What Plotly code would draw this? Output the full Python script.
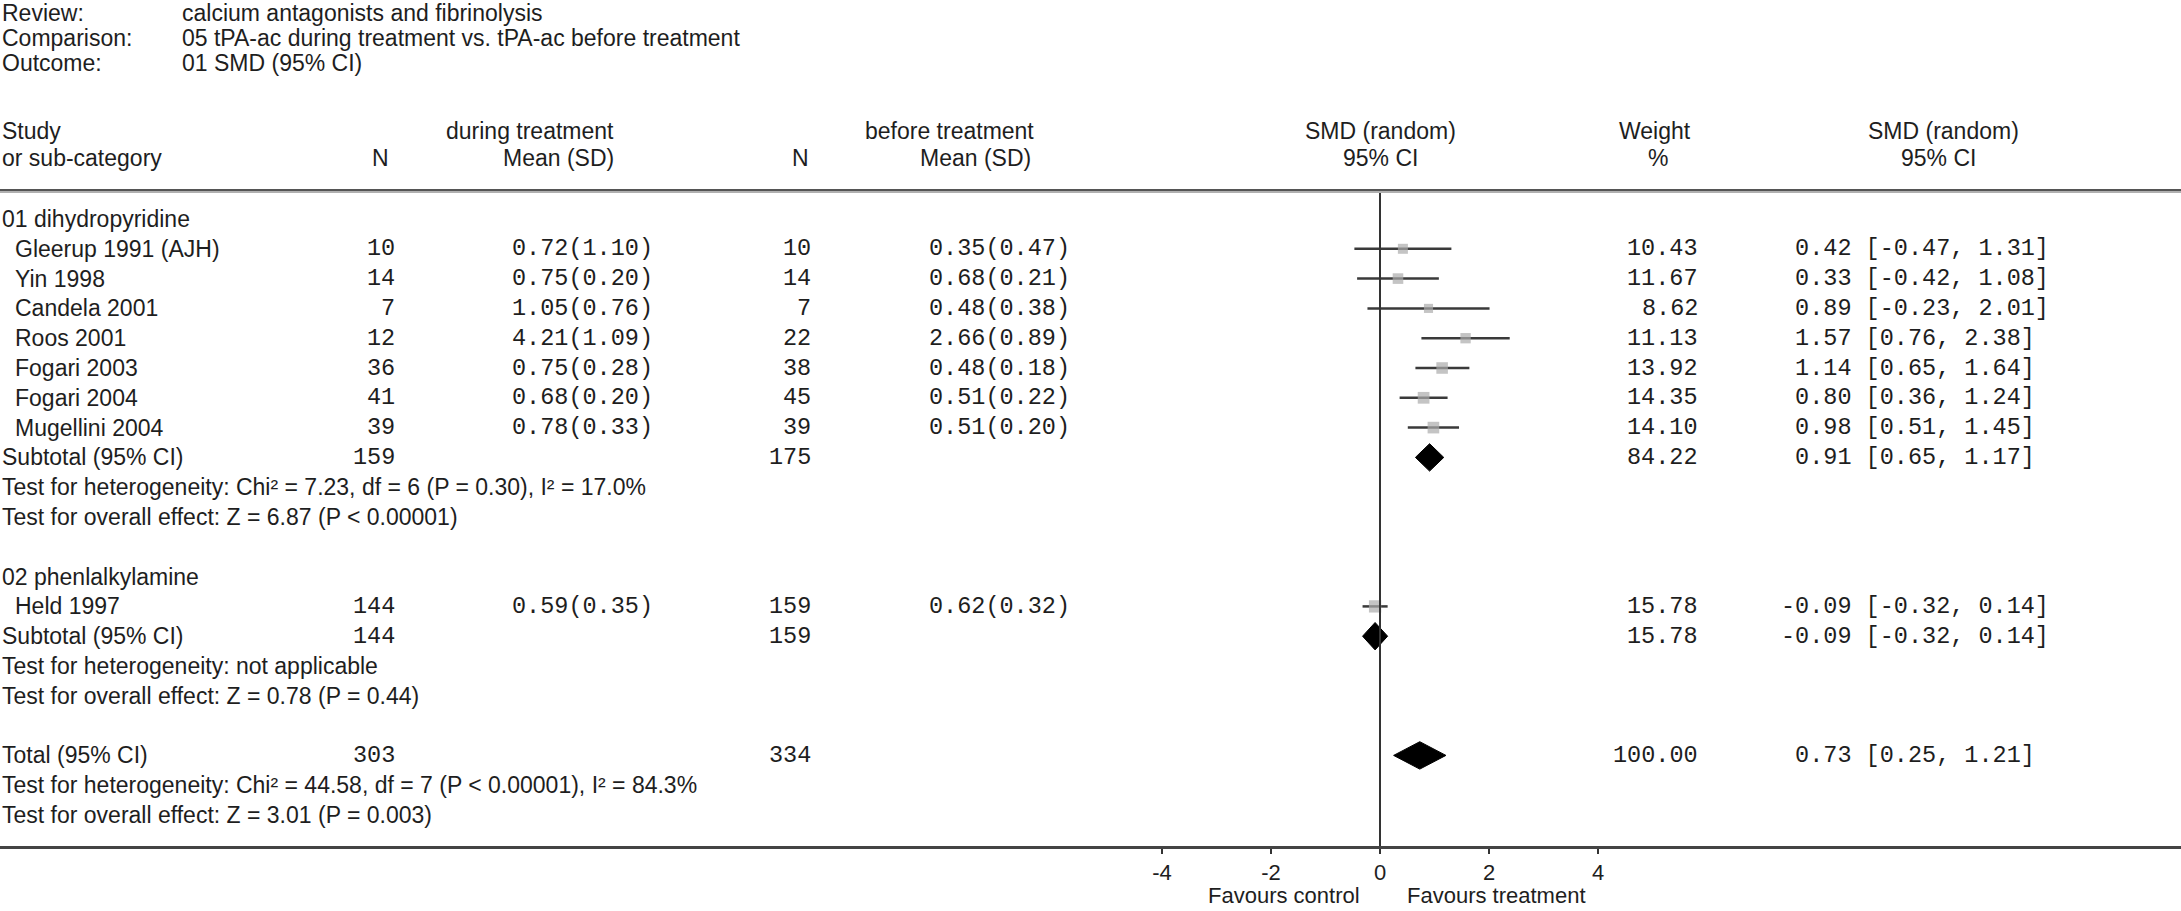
import plotly.graph_objects as go

# ---- data ----
group1_name = "01 dihydropyridine"
group1_studies = ["Gleerup 1991 (AJH)", "Yin 1998", "Candela 2001", "Roos 2001",
                  "Fogari 2003", "Fogari 2004", "Mugellini 2004"]
group1_n_during = [10, 14, 7, 12, 36, 41, 39]
group1_mean_during = [0.72, 0.75, 1.05, 4.21, 0.75, 0.68, 0.78]
group1_sd_during = [1.10, 0.20, 0.76, 1.09, 0.28, 0.20, 0.33]
group1_n_before = [10, 14, 7, 22, 38, 45, 39]
group1_mean_before = [0.35, 0.68, 0.48, 2.66, 0.48, 0.51, 0.51]
group1_sd_before = [0.47, 0.21, 0.38, 0.89, 0.18, 0.22, 0.20]
group1_weight = [10.43, 11.67, 8.62, 11.13, 13.92, 14.35, 14.10]
group1_smd = [0.42, 0.33, 0.89, 1.57, 1.14, 0.80, 0.98]
group1_lo = [-0.47, -0.42, -0.23, 0.76, 0.65, 0.36, 0.51]
group1_hi = [1.31, 1.08, 2.01, 2.38, 1.64, 1.24, 1.45]
group1_subtotal = dict(n1=159, n2=175, weight=84.22, smd=0.91, lo=0.65, hi=1.17)
group1_tests = ["Test for heterogeneity: Chi² = 7.23, df = 6 (P = 0.30), I² = 17.0%",
                "Test for overall effect: Z = 6.87 (P < 0.00001)"]

group2_name = "02 phenlalkylamine"
group2_studies = ["Held 1997"]
group2_n_during = [144]
group2_mean_during = [0.59]
group2_sd_during = [0.35]
group2_n_before = [159]
group2_mean_before = [0.62]
group2_sd_before = [0.32]
group2_weight = [15.78]
group2_smd = [-0.09]
group2_lo = [-0.32]
group2_hi = [0.14]
group2_subtotal = dict(n1=144, n2=159, weight=15.78, smd=-0.09, lo=-0.32, hi=0.14)
group2_tests = ["Test for heterogeneity: not applicable",
                "Test for overall effect: Z = 0.78 (P = 0.44)"]

total = dict(n1=303, n2=334, weight=100.00, smd=0.73, lo=0.25, hi=1.21)
total_tests = ["Test for heterogeneity: Chi² = 44.58, df = 7 (P < 0.00001), I² = 84.3%",
               "Test for overall effect: Z = 3.01 (P = 0.003)"]

header_info = [("Review:", "calcium antagonists and fibrinolysis"),
               ("Comparison:", "05 tPA-ac during treatment vs. tPA-ac before treatment"),
               ("Outcome:", "01 SMD (95% CI)")]
x_ticks = [-4, -2, 0, 2, 4]

# ---- layout helpers ----
W, H = 2181, 911
SANS = "Liberation Sans, Arial, sans-serif"
MONO = "Liberation Mono, Courier New, monospace"
TXT = "#1e1e1e"
ROW0_PX, PITCH = 219, 29.8
AXIS_PX = 846
ZERO_PX, UNIT_PX = 1380, 54.5


def row_of(px):
    return (px - ROW0_PX) / PITCH


def px(x):
    return x / W


annotations = []


def txt(x, y, s, anchor="left", font=SANS, size=23, yref="y"):
    annotations.append(dict(x=px(x), y=y, xref="paper", yref=yref, text=s,
                            showarrow=False, xanchor=anchor, yanchor="middle",
                            font=dict(family=font, size=size, color=TXT)))


def ci_text(smd, lo, hi):
    s = f"{smd:.2f} [{lo:.2f}, {hi:.2f}]"
    return ("\u00a0" + s) if smd >= 0 else s


fig = go.Figure()

# header block
for i, (k, v) in enumerate(header_info):
    r = row_of(13 + 25 * i)
    txt(0, r, k)
    txt(180, r, v)

r1, r2 = row_of(131), row_of(158)
txt(0, r1, "Study")
txt(0, r2, "or sub-category")
txt(380, r2, "N", "center")
txt(530, r1, "during treatment", "center")
txt(616, r2, "Mean (SD)", "right")
txt(800, r2, "N", "center")
txt(949, r1, "before treatment", "center")
txt(1033, r2, "Mean (SD)", "right")
txt(ZERO_PX, r1, "SMD (random)", "center")
txt(ZERO_PX, r2, "95% CI", "center")
txt(1655, r1, "Weight", "center")
txt(1658, r2, "%", "center")
txt(1943, r1, "SMD (random)", "center")
txt(1938, r2, "95% CI", "center")

study_rows, study_smd, study_lo, study_hi, study_w = [], [], [], [], []
diamonds = []

row = 0
groups = [
    (group1_name, group1_studies, group1_n_during, group1_mean_during, group1_sd_during,
     group1_n_before, group1_mean_before, group1_sd_before, group1_weight,
     group1_smd, group1_lo, group1_hi, group1_subtotal, group1_tests),
    (group2_name, group2_studies, group2_n_during, group2_mean_during, group2_sd_during,
     group2_n_before, group2_mean_before, group2_sd_before, group2_weight,
     group2_smd, group2_lo, group2_hi, group2_subtotal, group2_tests),
]
for (gname, names, n1, m1, s1, n2, m2, s2, w, smd, lo, hi, sub, tests) in groups:
    txt(0, row, gname)
    row += 1
    for i in range(len(names)):
        txt(13, row, names[i])
        txt(397, row, str(n1[i]), "right", MONO, 23.5)
        txt(510, row, f"{m1[i]:.2f}({s1[i]:.2f})", "left", MONO, 23.5)
        txt(813, row, str(n2[i]), "right", MONO, 23.5)
        txt(927, row, f"{m2[i]:.2f}({s2[i]:.2f})", "left", MONO, 23.5)
        txt(1700, row, f"{w[i]:.2f}", "right", MONO, 23.5)
        txt(1779, row, ci_text(smd[i], lo[i], hi[i]), "left", MONO, 23.5)
        study_rows.append(row)
        study_smd.append(smd[i])
        study_lo.append(lo[i])
        study_hi.append(hi[i])
        study_w.append(w[i])
        row += 1
    txt(0, row, "Subtotal (95% CI)")
    txt(397, row, str(sub["n1"]), "right", MONO, 23.5)
    txt(813, row, str(sub["n2"]), "right", MONO, 23.5)
    txt(1700, row, f"{sub['weight']:.2f}", "right", MONO, 23.5)
    txt(1779, row, ci_text(sub["smd"], sub["lo"], sub["hi"]), "left", MONO, 23.5)
    diamonds.append((row, sub))
    row += 1
    for t in tests:
        txt(0, row, t)
        row += 1
    row += 1

txt(0, row, "Total (95% CI)")
txt(397, row, str(total["n1"]), "right", MONO, 23.5)
txt(813, row, str(total["n2"]), "right", MONO, 23.5)
txt(1700, row, f"{total['weight']:.2f}", "right", MONO, 23.5)
txt(1779, row, ci_text(total["smd"], total["lo"], total["hi"]), "left", MONO, 23.5)
diamonds.append((row, total))
row += 1
for t in total_tests:
    txt(0, row, t)
    row += 1

# confidence interval lines
ci_x, ci_y = [], []
for r, l, h in zip(study_rows, study_lo, study_hi):
    ci_x += [l, h, None]
    ci_y += [r, r, None]
fig.add_trace(go.Scatter(x=ci_x, y=ci_y, mode="lines",
                         line=dict(color="#3a3a3a", width=2.5), hoverinfo="skip"))

# study squares
fig.add_trace(go.Scatter(x=study_smd, y=study_rows, mode="markers",
                         marker=dict(symbol="square", color="#ababab",
                                     size=[3.1 * w ** 0.5 for w in study_w],
                                     line=dict(width=0)),
                         hoverinfo="x+y"))

# pooled diamonds
for r, d in diamonds:
    fig.add_trace(go.Scatter(x=[d["lo"], d["smd"], d["hi"], d["smd"], d["lo"]],
                             y=[r, r - 0.46, r, r + 0.46, r],
                             mode="lines", fill="toself", fillcolor="black",
                             line=dict(color="black", width=1), hoverinfo="skip"))

# zero line and rules
rule_r = row_of(190)
bottom_r = row_of(AXIS_PX)
shapes = [
    dict(type="line", xref="x", yref="y", x0=0, x1=0, y0=rule_r, y1=bottom_r,
         line=dict(color="#333333", width=2)),
    dict(type="line", xref="paper", yref="y", x0=0, x1=1, y0=rule_r, y1=rule_r,
         line=dict(color="#555555", width=2)),
    dict(type="line", xref="paper", yref="y", x0=0, x1=1, y0=rule_r + 0.07, y1=rule_r + 0.07,
         line=dict(color="#b0b0b0", width=2)),
]

# favours labels under the axis
fav_y = 1 - 895 / H
txt(1284, fav_y, "Favours control", "center", size=22, yref="paper")
txt(1496, fav_y, "Favours treatment", "center", size=22, yref="paper")

fig.update_layout(
    width=W, height=H,
    margin=dict(l=0, r=0, t=0, b=0),
    paper_bgcolor="white", plot_bgcolor="white",
    showlegend=False,
    annotations=annotations,
    shapes=shapes,
    xaxis=dict(range=[-ZERO_PX / UNIT_PX, (W - ZERO_PX) / UNIT_PX],
               domain=[0, 1], tickvals=x_ticks, ticktext=[str(t) for t in x_ticks],
               ticks="outside", ticklen=5, tickwidth=2, tickcolor="#333333",
               showline=True, linecolor="#444444", linewidth=3,
               showgrid=False, zeroline=False,
               tickfont=dict(family=SANS, size=22, color=TXT)),
    yaxis=dict(range=[bottom_r, row_of(0)], domain=[1 - AXIS_PX / H, 1],
               visible=False, showgrid=False, zeroline=False),
)

fig.write_html("out.html", post_script="document.body.style.margin='0';",
               config=dict(displayModeBar=False))
